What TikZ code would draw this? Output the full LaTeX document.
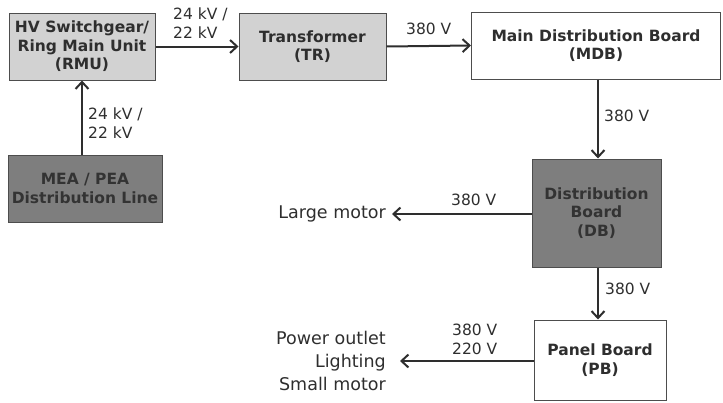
\documentclass[tikz,border=0pt]{standalone}
\usepackage{fontspec}
\setmainfont{DejaVu Sans}
\usetikzlibrary{arrows.meta}
\definecolor{lightbox}{HTML}{D2D2D2}
\definecolor{darkbox}{HTML}{7E7E7E}
\definecolor{ink}{HTML}{2E2E2E}
\begin{document}
\begin{tikzpicture}[x=1pt,y=-1pt,
  box/.style={draw=ink!85, line width=1pt, align=center, inner sep=0pt,
    font=\fontsize{15.5}{18.5}\selectfont\bfseries, text=ink},
  lightfill/.style={box, fill=lightbox},
  darkfill/.style={box, fill=darkbox, text=black!80},
  whitefill/.style={box, fill=white},
  conn/.style={draw=ink, line width=2pt, -{Straight Barb[length=7pt,width=13pt,line width=2pt]}},
  lbl/.style={font=\fontsize{15.5}{19}\selectfont, text=ink, inner sep=0pt, align=left},
  load/.style={font=\fontsize{17.5}{23}\selectfont, text=ink, inner sep=0pt}]
\useasboundingbox (0,0) rectangle (723,402);
\node[lightfill, minimum width=146pt, minimum height=67pt] (rmu) at (82,46.5) {HV Switchgear/\\Ring Main Unit\\(RMU)};
\node[lightfill, minimum width=147pt, minimum height=67pt] (tr) at (312.5,46.5) {Transformer\\(TR)};
\node[whitefill, minimum width=249pt, minimum height=67pt] (mdb) at (596,45.5) {Main Distribution Board\\(MDB)};
\node[darkfill, minimum width=154pt, minimum height=67pt] (mea) at (85,188.5) {MEA / PEA\\Distribution Line};
\node[darkfill, minimum width=129pt, minimum height=108pt] (db) at (596.5,213) {Distribution\\Board\\(DB)};
\node[whitefill, minimum width=132pt, minimum height=80pt] (pb) at (600,360) {Panel Board\\(PB)};
\node[load, anchor=east] (lm) at (386,214) {Large motor};
\node[load, anchor=east, align=right] (ld) at (386,361) {Power outlet\\Lighting\\Small motor};
% connectors
\draw[conn] (rmu.east) -- (tr.west);
\draw[conn] (tr.east) -- (mdb.west);
\draw[conn] (rmu.south |- mea.north) -- (rmu.south);
\draw[conn] (mdb.south -| 598,0) -- (db.north -| 598,0);
\draw[conn] (db.south -| 598,0) -- (pb.north -| 598,0);
\draw[conn] (db.west |- lm.east) -- ([xshift=6pt]lm.east);
\draw[conn] (pb.west |- ld.east) -- ([xshift=14pt]ld.east);
% labels
\node[lbl, anchor=west] (l1) at (173,23.5) {24 kV /\\22 kV};
\node[lbl, anchor=west] (l2) at (88,123) {24 kV /\\22 kV};
\node[lbl, anchor=west] (l3) at (406,29) {380 V};
\node[lbl, anchor=west] (l4) at (604,116) {380 V};
\node[lbl, anchor=west] (l5) at (451,200) {380 V};
\node[lbl, anchor=west] (l6) at (605,289) {380 V};
\node[lbl, anchor=west] (l7) at (452,339) {380 V\\220 V};
\end{tikzpicture}
\end{document}
